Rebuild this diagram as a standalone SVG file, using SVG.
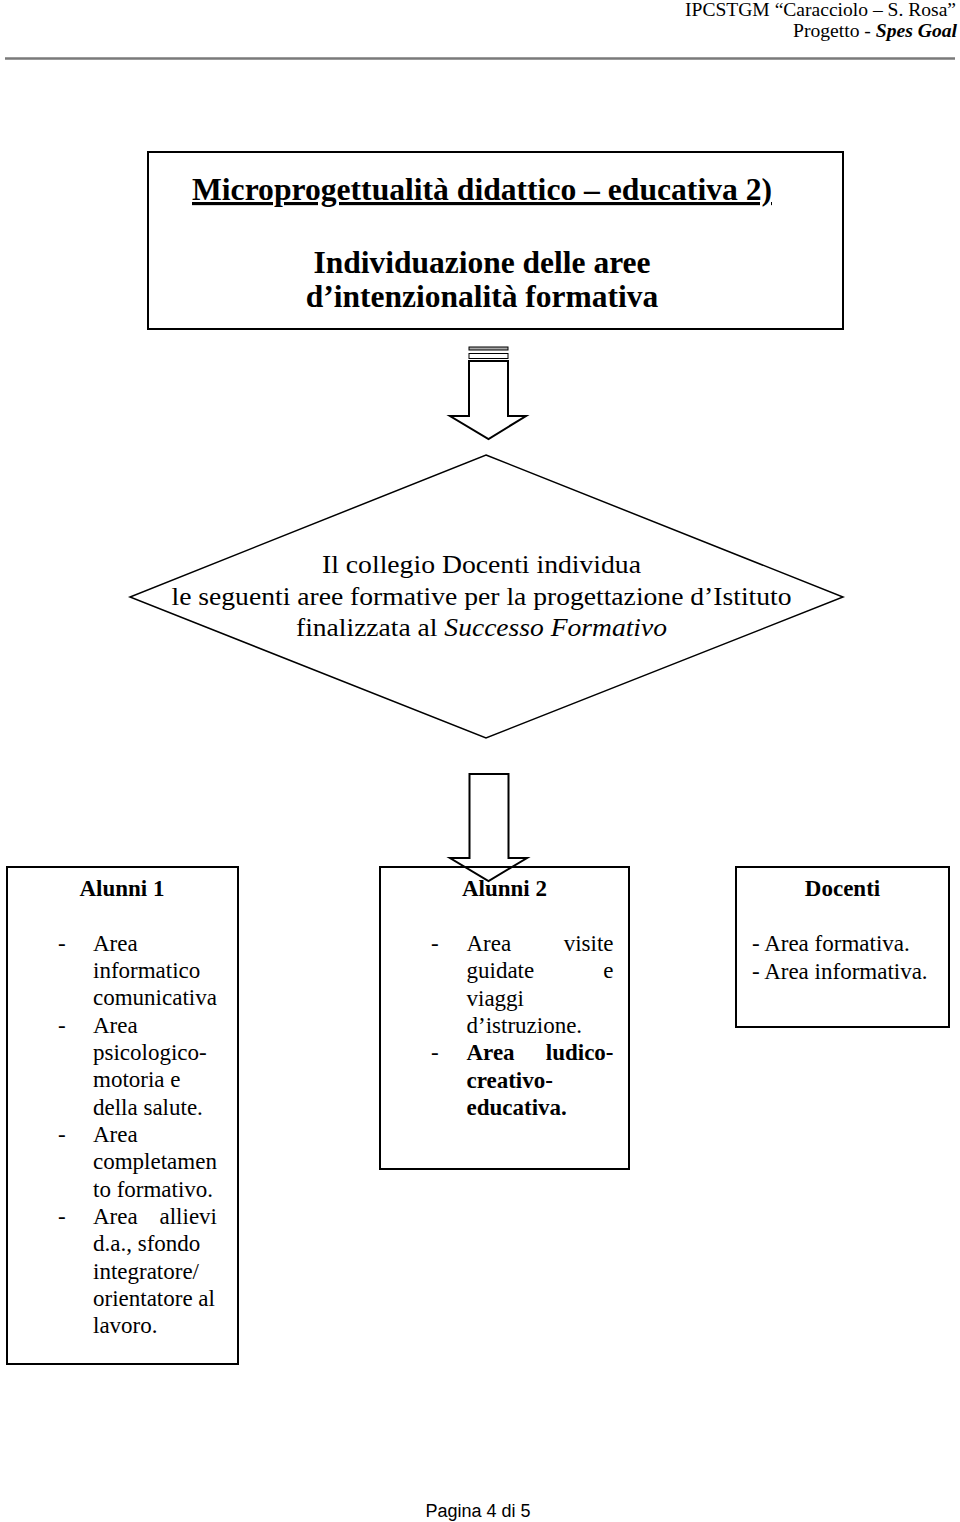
<svg xmlns="http://www.w3.org/2000/svg" width="960" height="1522" viewBox="0 0 960 1522">
<style>
.t{font-family:"Liberation Serif","Times New Roman",serif;fill:#000}
.b{font-weight:bold}
.i{font-style:italic}
.box{fill:none;stroke:#000;stroke-width:2}
.arrow{fill:#fff;stroke:#000;stroke-width:2;stroke-linejoin:miter}
.body{font-size:23px}
.h{font-size:23px;font-weight:bold}
</style>
<rect width="960" height="1522" fill="#fff"/>
<g id="header">
<text class="t" x="685" y="16" font-size="18" textLength="271" lengthAdjust="spacingAndGlyphs">IPCSTGM “Caracciolo – S. Rosa”</text>
<text class="t" x="793" y="37" font-size="18" textLength="164" lengthAdjust="spacingAndGlyphs">Progetto - <tspan class="b i">Spes Goal</tspan></text>
<line x1="5" y1="58.5" x2="955" y2="58.5" stroke="#7a7a7a" stroke-width="2.5"/>
</g>
<g id="connectors">
<rect x="469" y="347" width="39" height="3" fill="#aaa" stroke="#000" stroke-width="1"/>
<rect x="469" y="353.5" width="39" height="5" fill="#fff" stroke="#000" stroke-width="1"/>
<polygon class="arrow" points="469,361 508,361 508,416 526,416 488.5,439 450,416 469,416"/>
<polygon class="arrow" points="469.5,774 508.5,774 508.5,858 527,858 488.5,881 450,858 469.5,858"/>
</g>
<g id="title">
<rect class="box" x="148" y="152" width="695" height="177"/>
<text class="t b" x="192" y="200" font-size="31.5" text-decoration="underline" textLength="580" lengthAdjust="spacingAndGlyphs">Microprogettualità didattico – educativa 2)</text>
<text class="t b" x="482" y="273" font-size="31.5" text-anchor="middle">Individuazione delle aree</text>
<text class="t b" x="482" y="307" font-size="31.5" text-anchor="middle">d’intenzionalità formativa</text>
</g>
<g id="decision">
<polygon points="486,455 843,597 486,738 130,597" fill="none" stroke="#000" stroke-width="1.5"/>
<text class="t" x="322" y="573" font-size="25" textLength="319" lengthAdjust="spacingAndGlyphs">Il collegio Docenti individua</text>
<text class="t" x="171.5" y="605" font-size="25" textLength="620" lengthAdjust="spacingAndGlyphs">le seguenti aree formative per la progettazione d’Istituto</text>
<text class="t" x="296" y="636" font-size="25" textLength="371" lengthAdjust="spacingAndGlyphs">finalizzata al <tspan class="i">Successo Formativo</tspan></text>
</g>
<g id="alunni1">
<rect class="box" x="7" y="867" width="231" height="497"/>
<text class="t h" x="122" y="896" text-anchor="middle">Alunni 1</text>
<g class="t body">
<text x="58" y="950.5">-</text>
<text x="93" y="950.5">Area</text>
<text x="93" y="977.9">informatico</text>
<text x="93" y="1005.2">comunicativa</text>
<text x="58" y="1032.6">-</text>
<text x="93" y="1032.6">Area</text>
<text x="93" y="1059.9">psicologico-</text>
<text x="93" y="1087.3">motoria e</text>
<text x="93" y="1114.6">della salute.</text>
<text x="58" y="1142">-</text>
<text x="93" y="1142">Area</text>
<text x="93" y="1169.3">completamen</text>
<text x="93" y="1196.7">to formativo.</text>
<text x="58" y="1224">-</text>
<text x="93" y="1224">Area</text>
<text x="217" y="1224" text-anchor="end">allievi</text>
<text x="93" y="1251.4">d.a., sfondo</text>
<text x="93" y="1278.7">integratore/</text>
<text x="93" y="1306.1">orientatore al</text>
<text x="93" y="1333.4">lavoro.</text>
</g>
</g>
<g id="alunni2">
<rect class="box" x="380" y="867" width="249" height="302"/>
<text class="t h" x="504.5" y="896" text-anchor="middle">Alunni 2</text>
<g class="t body">
<text x="431" y="951">-</text>
<text x="466.5" y="951">Area</text>
<text x="613.5" y="951" text-anchor="end">visite</text>
<text x="466.5" y="978.3">guidate</text>
<text x="613.5" y="978.3" text-anchor="end">e</text>
<text x="466.5" y="1005.7">viaggi</text>
<text x="466.5" y="1033">d’istruzione.</text>
<text x="431" y="1060.4">-</text>
<text x="466.5" y="1060.4" class="b">Area</text>
<text x="613.5" y="1060.4" class="b" text-anchor="end">ludico-</text>
<text x="466.5" y="1087.7" class="b">creativo-</text>
<text x="466.5" y="1115.1" class="b">educativa.</text>
</g>
</g>
<g id="docenti">
<rect class="box" x="736" y="867" width="213" height="160"/>
<text class="t h" x="842.5" y="896" text-anchor="middle">Docenti</text>
<text class="t body" x="752" y="951">- Area formativa.</text>
<text class="t body" x="752" y="978.5">- Area informativa.</text>
</g>
<g id="footer">
<text x="478" y="1517" font-family="Liberation Sans, Arial, sans-serif" font-size="18" text-anchor="middle">Pagina 4 di 5</text>
</g>
</svg>
